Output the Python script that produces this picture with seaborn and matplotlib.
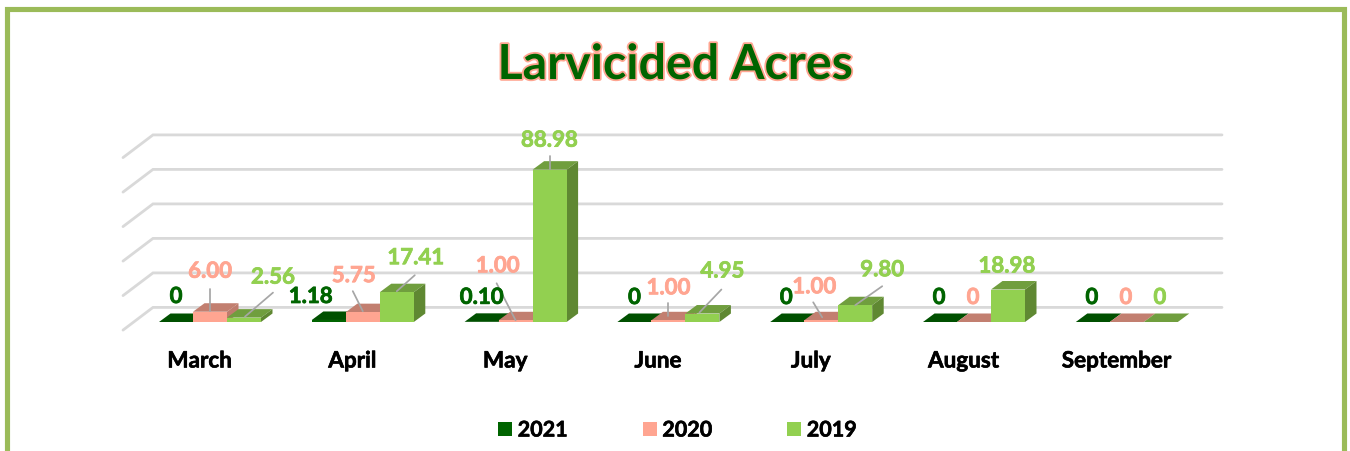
import matplotlib
matplotlib.use("Agg")
import matplotlib.pyplot as plt
import matplotlib.patheffects as pe
from matplotlib.patches import Polygon, Rectangle
from matplotlib.transforms import ScaledTranslation
import pandas as pd
import seaborn as sns

# ---- data ----
months = ["March", "April", "May", "June", "July", "August", "September"]
years = ["2021", "2020", "2019"]
acres_2021 = [0, 1.18, 0.10, 0, 0, 0, 0]
acres_2020 = [6.00, 5.75, 1.00, 1.00, 1.00, 0, 0]
acres_2019 = [2.56, 17.41, 88.98, 4.95, 9.80, 18.98, 0]
labels_2021 = ["0", "1.18", "0.10", "0", "0", "0", "0"]
labels_2020 = ["6.00", "5.75", "1.00", "1.00", "1.00", "0", "0"]
labels_2019 = ["2.56", "17.41", "88.98", "4.95", "9.80", "18.98", "0"]
grid_values = [0, 20, 40, 60, 80, 100]

# ---- style ----
front = {"2021": "#006400", "2020": "#FFA591", "2019": "#92D050"}
top = {"2021": "#005000", "2020": "#C27F70", "2019": "#709E3E"}
side = {"2021": "#004B00", "2020": "#BF7C6D", "2019": "#5F8832"}
FRAME = "#9BBB59"
GRID = "#D9D9D9"
LEADER = "#A6A6A6"
FONT = "Lato"

W, H, DPI = 1350, 452, 100
CAT_PX = 152.8        # pixels per category
UNIT_PX = 1.712       # pixels per data unit
X0_PX, Y0_PX = 210.0, 323.0   # first category centre, zero line
DX_PX, DY_PX = 11.5, 8.5      # bar depth

# label offsets from each bar's front-top centre, pixels (dx right, dy up)
label_off = {
    "2021": [(0, 25.5), (-18, 23.5), (0, 24.5), (0, 24.5), (-1, 24.5), (-1, 24.5), (-1, 24.5)],
    "2020": [(0, 40.5), (-9, 36.5), (-18, 54.5), (0, 32.5), (-7, 33.5), (-1, 24.5), (-1, 24.5)],
    "2019": [(29, 40.5), (19, 34.5), (0, 29.5), (20, 42.5), (27, 35.5), (-1, 23.5), (-1, 24.5)],
}
# leader lines, start and end as offsets from the bar's front-top centre
leaders = {
    ("2020", 0): ((0, 23), (0, 1)),
    ("2019", 0): ((29, 25), (1, 1)),
    ("2020", 1): ((-10, 21), (0, 1)),
    ("2019", 1): ((18, 17), (0, 1)),
    ("2020", 2): ((-19, 37), (0, 0)),
    ("2019", 2): ((0, 14), (0, 1)),
    ("2020", 3): ((0, 17), (0, 4)),
    ("2019", 3): ((19, 24), (-3, 1)),
    ("2020", 4): ((-8, 18), (1, 3)),
    ("2019", 4): ((27, 19), (0, 0)),
}

sns.set_theme(style="white")
plt.rcParams["font.family"] = [FONT, "DejaVu Sans"]
plt.rcParams["font.weight"] = "bold"
plt.rcParams["text.color"] = "black"


def thick(color, lw=0.55):
    return [pe.withStroke(linewidth=lw, foreground=color)]


fig = plt.figure(figsize=(W / DPI, H / DPI), dpi=DPI, facecolor="white")
ax_h_px = 220
ax_left = X0_PX - CAT_PX / 2
ax = fig.add_axes([ax_left / W, (H - Y0_PX) / H, 7 * CAT_PX / W, ax_h_px / H])
ax.patch.set_alpha(0)

df = pd.DataFrame({
    "month": months * 3,
    "year": [y for y in years for _ in months],
    "acres": acres_2021 + acres_2020 + acres_2019,
})
sns.barplot(data=df, x="month", y="acres", hue="year", order=months, hue_order=years,
            palette=front, saturation=1, width=0.6675, gap=0, legend=False, ax=ax,
            linewidth=0, errorbar=None)
ax.set_xlim(-0.5, 6.5)
ax.set_ylim(0, ax_h_px / UNIT_PX)
ax.set_xlabel("")
ax.set_ylabel("")
ax.set_yticks([])
sns.despine(ax=ax, left=True, bottom=True)

dx = DX_PX / CAT_PX
dy = DY_PX / UNIT_PX

# gridlines: back wall with slanted floor returns
grid_x0 = (153 - X0_PX) / CAT_PX
grid_x1 = (1222 - X0_PX) / CAT_PX
slant_x = (123 - X0_PX) / CAT_PX
base = 14.6 / UNIT_PX
drop = 22.7 / UNIT_PX
for v in grid_values:
    yv = base + v * 1.725 / UNIT_PX
    ax.plot([slant_x, grid_x0, grid_x1], [yv - drop, yv, yv], color=GRID, lw=2.0,
            clip_on=False, zorder=1, solid_joinstyle="miter")

# 3D faces built from the seaborn bars
all_labels = {"2021": labels_2021, "2020": labels_2020, "2019": labels_2019}
for s, (year, cont) in enumerate(zip(years, ax.containers)):
    for i, bar in enumerate(cont.patches):
        x0, w, h = bar.get_x(), bar.get_width(), bar.get_height()
        z = 3 + s + i * 3
        bar.set_zorder(z + 0.5)
        ax.add_patch(Polygon([(x0, h), (x0 + w, h), (x0 + w + dx, h + dy), (x0 + dx, h + dy)],
                             closed=True, fc=top[year], ec="none", zorder=z, clip_on=False))
        if h > 0:
            ax.add_patch(Polygon([(x0 + w, 0), (x0 + w + dx, dy), (x0 + w + dx, h + dy), (x0 + w, h)],
                                 closed=True, fc=side[year], ec="none", zorder=z, clip_on=False))
        cx = x0 + w / 2
        ox, oy = label_off[year][i]
        ax.annotate(all_labels[year][i], xy=(cx, h), xytext=(ox, oy), xycoords="data",
                    textcoords="offset pixels", ha="center", va="center",
                    color=front[year], fontsize=16, fontweight="bold", zorder=100,
                    path_effects=thick(front[year]))
        if (year, i) in leaders:
            (a, b), (c, d) = leaders[(year, i)]
            ax.plot([cx + a / CAT_PX, cx + c / CAT_PX], [h + b / UNIT_PX, h + d / UNIT_PX],
                    color=LEADER, lw=1.25, zorder=90, clip_on=False)

# month labels
ax.set_xticks(range(len(months)))
ax.set_xticklabels(months, fontsize=16.2, fontweight="bold", color="black")
ax.tick_params(axis="x", length=0, pad=20.5)
shift = ScaledTranslation(-10.5 / DPI, 0, fig.dpi_scale_trans)
for t in ax.get_xticklabels():
    t.set_transform(t.get_transform() + shift)
    t.set_path_effects(thick("black", 0.45))

# legend
handles = [Rectangle((0, 0), 1, 1, fc=front[y], ec="none") for y in years]
leg = fig.legend(handles, years, ncol=3, frameon=False, loc="center",
                 bbox_to_anchor=(677.5 / W, 1 - 431 / H),
                 prop={"family": FONT, "weight": "bold", "size": 15.5},
                 handlelength=0.65, handleheight=0.65, handletextpad=0.25, columnspacing=3.5)
for t in leg.get_texts():
    t.set_color("black")
    t.set_path_effects(thick("black", 0.45))

# title
fig.text(675.5 / W, 1 - 66 / H, "Larvicided Acres", ha="center", va="center",
         fontsize=34.8, fontweight="bold", color=front["2021"],
         path_effects=[pe.withStroke(linewidth=2.6, foreground="#FFA591")])

# outer frame (bottom edge runs off the image)
fig.add_artist(Rectangle((7 / W, -20 / H), (1343.5 - 7) / W, (20 + H - 10) / H,
                         transform=fig.transFigure, fill=False, ec=FRAME, lw=3.7,
                         joinstyle="miter"))

fig.savefig("out.png", dpi=DPI, facecolor="white")
